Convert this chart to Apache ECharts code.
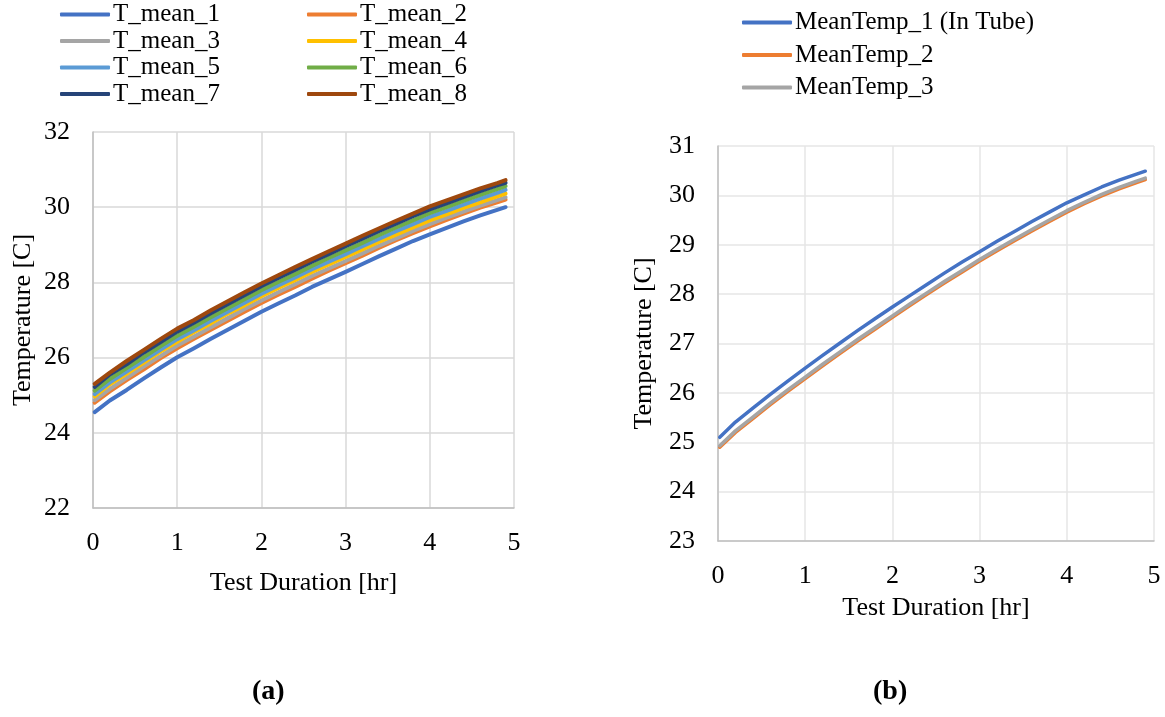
<!DOCTYPE html>
<html>
<head>
<meta charset="utf-8">
<script src="https://cdn.jsdelivr.net/npm/echarts@6/dist/echarts.min.js"></script>
<style>
html,body{margin:0;padding:0;background:#fff;}
#chart{width:1165px;height:717px;}
</style>
</head>
<body>
<div id="chart"></div>
<script>
// Test duration [hr]
var hours = [0.02, 0.2, 0.4, 0.6, 0.8, 1.0, 1.2, 1.4, 1.6, 1.8, 2.0, 2.2, 2.4, 2.6, 2.8, 3.0, 3.2, 3.4, 3.6, 3.8, 4.0, 4.2, 4.4, 4.6, 4.8, 4.9];

// Panel (a)
var tMean1 = [24.55, 24.86, 25.14, 25.44, 25.73, 26.01, 26.25, 26.5, 26.74, 26.98, 27.22, 27.44, 27.65, 27.88, 28.08, 28.28, 28.49, 28.7, 28.9, 29.1, 29.28, 29.45, 29.62, 29.78, 29.93, 30.0];
var tMean2 = [24.8, 25.1, 25.4, 25.68, 25.98, 26.25, 26.5, 26.74, 26.98, 27.22, 27.45, 27.67, 27.88, 28.1, 28.31, 28.51, 28.71, 28.92, 29.12, 29.31, 29.49, 29.66, 29.83, 29.99, 30.13, 30.2];
var tMean3 = [24.87, 25.17, 25.46, 25.76, 26.04, 26.32, 26.56, 26.81, 27.05, 27.29, 27.52, 27.74, 27.95, 28.17, 28.37, 28.57, 28.77, 28.98, 29.17, 29.37, 29.55, 29.72, 29.88, 30.04, 30.19, 30.26];
var tMean4 = [24.97, 25.29, 25.57, 25.86, 26.16, 26.42, 26.68, 26.91, 27.17, 27.39, 27.63, 27.85, 28.06, 28.28, 28.48, 28.68, 28.88, 29.08, 29.27, 29.46, 29.65, 29.81, 29.98, 30.13, 30.29, 30.36];
var tMean5 = [25.03, 25.34, 25.63, 25.92, 26.21, 26.49, 26.73, 26.98, 27.22, 27.46, 27.7, 27.92, 28.13, 28.35, 28.55, 28.75, 28.96, 29.16, 29.36, 29.55, 29.74, 29.9, 30.07, 30.23, 30.38, 30.46];
var tMean6 = [25.12, 25.43, 25.72, 26.01, 26.3, 26.58, 26.82, 27.07, 27.31, 27.55, 27.79, 28.01, 28.22, 28.44, 28.65, 28.85, 29.05, 29.26, 29.46, 29.65, 29.84, 30.0, 30.17, 30.33, 30.48, 30.56];
var tMean7 = [25.22, 25.55, 25.82, 26.13, 26.41, 26.69, 26.93, 27.18, 27.42, 27.66, 27.9, 28.12, 28.33, 28.55, 28.75, 28.96, 29.16, 29.37, 29.56, 29.76, 29.94, 30.1, 30.27, 30.43, 30.58, 30.65];
var tMean8 = [25.3, 25.6, 25.91, 26.2, 26.49, 26.77, 27.0, 27.26, 27.5, 27.74, 27.97, 28.19, 28.41, 28.62, 28.83, 29.03, 29.24, 29.44, 29.64, 29.83, 30.02, 30.18, 30.34, 30.5, 30.64, 30.72];

// Panel (b)
var meanTemp1 = [25.1, 25.41, 25.69, 25.97, 26.24, 26.5, 26.76, 27.01, 27.26, 27.5, 27.74, 27.97, 28.2, 28.43, 28.65, 28.86, 29.07, 29.27, 29.47, 29.66, 29.85, 30.01, 30.17, 30.31, 30.43, 30.49];
var meanTemp2 = [24.9, 25.2, 25.48, 25.76, 26.03, 26.29, 26.55, 26.8, 27.05, 27.29, 27.53, 27.77, 28.0, 28.23, 28.45, 28.67, 28.88, 29.08, 29.28, 29.47, 29.66, 29.83, 29.99, 30.13, 30.26, 30.32];
var meanTemp3 = [24.93, 25.23, 25.51, 25.79, 26.06, 26.32, 26.58, 26.83, 27.08, 27.32, 27.56, 27.8, 28.03, 28.26, 28.48, 28.7, 28.91, 29.11, 29.31, 29.5, 29.69, 29.86, 30.02, 30.16, 30.29, 30.35];

var namesA = ['T_mean_1','T_mean_2','T_mean_3','T_mean_4','T_mean_5','T_mean_6','T_mean_7','T_mean_8'];
var namesB = ['MeanTemp_1 (In Tube)','MeanTemp_2','MeanTemp_3'];
var xTicks = [0, 5, 1];      // min, max, interval
var yTicksA = [22, 32, 2];
var yTicksB = [23, 31, 1];

var colorsA = ['#4472C4','#ED7D31','#A5A5A5','#FFC000','#5B9BD5','#70AD47','#264478','#9E480E'];
var colorsB = ['#4472C4','#ED7D31','#A5A5A5'];

var FONT = 'Liberation Serif, Times New Roman, serif';

function pairs(xs, ys){ return xs.map(function(x,i){ return [x, ys[i]]; }); }

var seriesA = [tMean1,tMean2,tMean3,tMean4,tMean5,tMean6,tMean7,tMean8].map(function(d,i){
  return {name: namesA[i], type:'line', xAxisIndex:0, yAxisIndex:0, data: pairs(hours,d),
    symbol:'none', lineStyle:{width:4, color:colorsA[i], cap:'round', join:'round'}, itemStyle:{color:colorsA[i]}, animation:false};
});
var seriesB = [meanTemp1,meanTemp2,meanTemp3].map(function(d,i){
  return {name: namesB[i], type:'line', xAxisIndex:1, yAxisIndex:1, data: pairs(hours,d),
    symbol:'none', lineStyle:{width:3.5, color:colorsB[i], cap:'round', join:'round'}, itemStyle:{color:colorsB[i]}, animation:false};
});

function xAxis(gi, gap, gridColor){
  return {type:'value', gridIndex:gi, min:xTicks[0], max:xTicks[1], interval:xTicks[2],
    name:'Test Duration [hr]', nameLocation:'middle', nameGap:gap,
    nameTextStyle:{fontFamily:FONT, fontSize:26, color:'#000'},
    axisLine:{show:true, lineStyle:{color:'#BFBFBF', width:1.5}}, axisTick:{show:false},
    axisLabel:{fontFamily:FONT, fontSize:26, color:'#000', margin:22},
    splitLine:{show:true, lineStyle:{color:gridColor, width:1.5}}};
}
function yAxis(gi, t, gap, gridColor){
  return {type:'value', gridIndex:gi, min:t[0], max:t[1], interval:t[2],
    name:'Temperature [C]', nameLocation:'middle', nameGap:gap,
    nameTextStyle:{fontFamily:FONT, fontSize:26, color:'#000'},
    axisLine:{show:true, lineStyle:{color:'#BFBFBF', width:1.5}}, axisTick:{show:false},
    axisLabel:{fontFamily:FONT, fontSize:26, color:'#000', margin:23},
    splitLine:{show:true, lineStyle:{color:gridColor, width:1.5}}};
}
function legend(data, left, top, gap){
  return {data:data, orient:'vertical', left:left, top:top, itemGap:gap, itemWidth:50, itemHeight:4,
    icon:'roundRect', selectedMode:false, padding:0,
    textStyle:{fontFamily:FONT, fontSize:25, color:'#000', lineHeight:25, padding:[0,0,0,-2]}};
}

var chart = echarts.init(document.getElementById('chart'), null, {renderer:'canvas'});
chart.setOption({
  backgroundColor:'#fff',
  animation:false,
  grid:[
    {left:93, top:132, width:421, height:376, containLabel:false},
    {left:718, top:146, width:436, height:395, containLabel:false}
  ],
  xAxis:[xAxis(0, 62, '#D9D9D9'), xAxis(1, 54, '#E6E6E6')],
  yAxis:[yAxis(0, yTicksA, 57, '#D9D9D9'), yAxis(1, yTicksB, 61, '#E6E6E6')],
  legend:[
    legend([namesA[0],namesA[2],namesA[4],namesA[6]], 60, 2, 1.5),
    legend([namesA[1],namesA[3],namesA[5],namesA[7]], 307, 2, 1.5),
    legend(namesB, 742, 10, 7.5)
  ],
  graphic:[
    {type:'text', left:252, top:678, style:{text:'(a)', font:'bold 28px ' + FONT, fill:'#000'}},
    {type:'text', left:873, top:678, style:{text:'(b)', font:'bold 28px ' + FONT, fill:'#000'}}
  ],
  series: seriesA.concat(seriesB)
});
</script>
</body>
</html>
